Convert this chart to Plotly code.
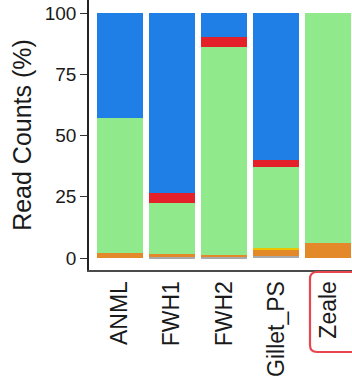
import plotly.graph_objects as go

# Primer sets and the share of reads (%) assigned to each taxon group
primers = ["ANML", "FWH1", "FWH2", "Gillet_PS", "Zeale"]
gray_vals = [0.0, 0.8, 0.5, 1.0, 0.0]
orange_vals = [2.2, 0.8, 0.6, 2.3, 6.0]
yellow_vals = [0.0, 0.0, 0.0, 0.7, 0.0]
green_vals = [54.8, 20.9, 85.0, 33.1, 94.0]
red_vals = [0.0, 4.1, 4.1, 2.9, 0.0]
blue_vals = [43.0, 73.4, 9.8, 60.0, 0.0]
y_ticks = [0, 25, 50, 75, 100]

layers = [
    (gray_vals, "#A9A9A9"),
    (orange_vals, "#E3892A"),
    (yellow_vals, "#EEC400"),
    (green_vals, "#90EA8C"),
    (red_vals, "#E4202A"),
    (blue_vals, "#1F7FE6"),
]

W, H = 352, 387
L, R, T, B = 89, 0, 0, 117

fig = go.Figure()
for vals, col in layers:
    fig.add_trace(go.Bar(x=primers, y=vals, marker=dict(color=col, line=dict(width=0)),
                         showlegend=False))

# pixel -> paper helpers for the highlight box around the last label
pw, ph = W - L - R, H - T - B
def px(x):
    return (x - L) / pw
def py(y):
    return (H - B - y) / ph

x0, x1, y0, y1, r = 310, 368, 272, 352, 7
path = (f"M {px(x0 + r)},{py(y0)} L {px(x1 - r)},{py(y0)} "
        f"Q {px(x1)},{py(y0)} {px(x1)},{py(y0 + r)} L {px(x1)},{py(y1 - r)} "
        f"Q {px(x1)},{py(y1)} {px(x1 - r)},{py(y1)} L {px(x0 + r)},{py(y1)} "
        f"Q {px(x0)},{py(y1)} {px(x0)},{py(y1 - r)} L {px(x0)},{py(y0 + r)} "
        f"Q {px(x0)},{py(y0)} {px(x0 + r)},{py(y0)} Z")
fig.add_shape(type="path", path=path, xref="paper", yref="paper",
              line=dict(color="#E8474F", width=2.2), fillcolor="rgba(0,0,0,0)")

fig.update_layout(
    width=W, height=H,
    margin=dict(l=L, r=R, t=T, b=B, pad=0),
    barmode="stack", bargap=0.11,
    plot_bgcolor="white", paper_bgcolor="white",
    font=dict(family="Liberation Sans, Arial, sans-serif", color="#1a1a1a"),
    xaxis=dict(range=[-0.596, 4.46], showline=True, linecolor="#4a4a4a", linewidth=1.8,
               ticks="", tickangle=-90, tickfont=dict(size=23, color="#1a1a1a"),
               showgrid=False, zeroline=False),
    yaxis=dict(range=[-4.9, 105.4], tickvals=y_ticks, showline=True, linecolor="#222",
               linewidth=1.5, ticks="outside", ticklen=7, tickwidth=1, tickcolor="#333",
               tickfont=dict(size=19, color="#1a1a1a"), showgrid=False, zeroline=False,
               title=dict(text="Read Counts (%)", font=dict(size=25, color="#1a1a1a"),
                          standoff=6)),
)

fig.write_html("out.html")
